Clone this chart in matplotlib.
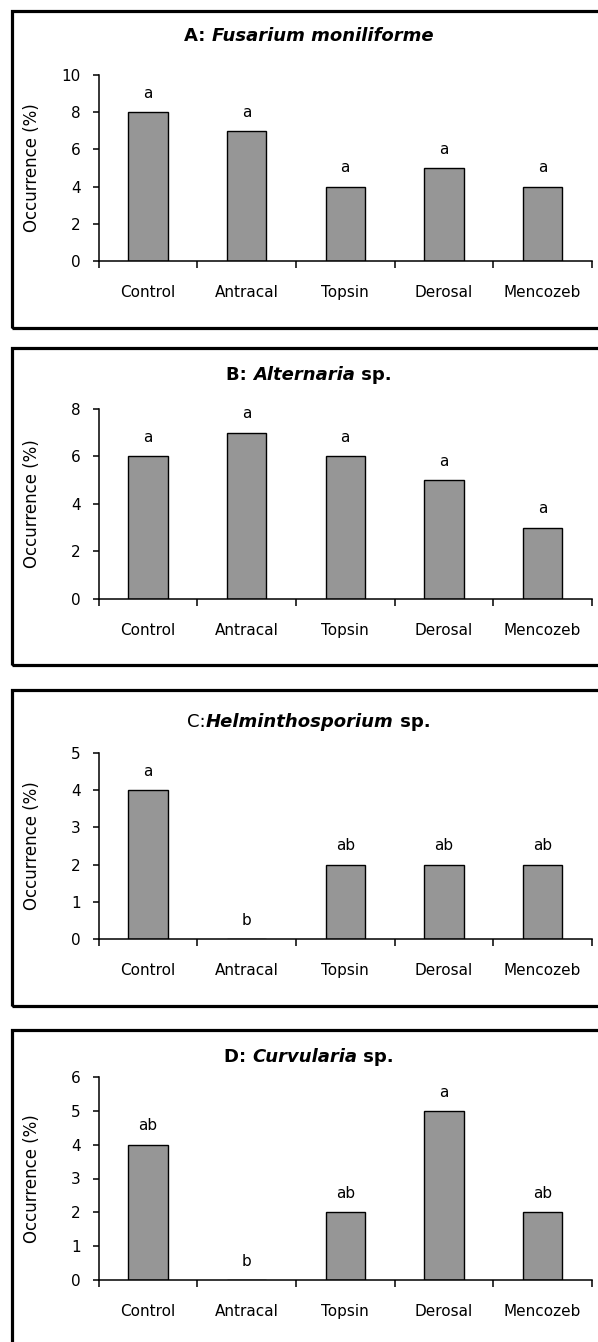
import matplotlib
matplotlib.use("Agg")
import matplotlib.pyplot as plt
from matplotlib.patches import Rectangle
from matplotlib.transforms import IdentityTransform

categories = ['Control', 'Antracal', 'Topsin', 'Derosal', 'Mencozeb']

values_a = [8, 7, 4, 5, 4]
letters_a = ['a', 'a', 'a', 'a', 'a']
yticks_a = [0, 2, 4, 6, 8, 10]

values_b = [6, 7, 6, 5, 3]
letters_b = ['a', 'a', 'a', 'a', 'a']
yticks_b = [0, 2, 4, 6, 8]

values_c = [4, 0, 2, 2, 2]
letters_c = ['a', 'b', 'ab', 'ab', 'ab']
yticks_c = [0, 1, 2, 3, 4, 5]

values_d = [4, 0, 2, 5, 2]
letters_d = ['ab', 'b', 'ab', 'a', 'ab']
yticks_d = [0, 1, 2, 3, 4, 5, 6]

title_a = [('A: ', 'normal', 'bold'), ('Fusarium moniliforme', 'italic', 'bold')]
title_b = [('B: ', 'normal', 'bold'), ('Alternaria', 'italic', 'bold'), (' sp.', 'normal', 'bold')]
title_c = [('C:', 'normal', 'normal'), ('Helminthosporium', 'italic', 'bold'), (' sp.', 'normal', 'bold')]
title_d = [('D: ', 'normal', 'bold'), ('Curvularia', 'italic', 'bold'), (' sp.', 'normal', 'bold')]

ylabel = 'Occurrence (%)'

W, H = 598, 1342
fig = plt.figure(figsize=(W / 100, H / 100), dpi=100)
fig.patch.set_facecolor('white')
plt.rcParams['font.family'] = ['DejaVu Sans']

panels = [
    # values, letters, yticks, title, axes top px, axes bottom px, box top, box bottom, title y
    (values_a, letters_a, yticks_a, title_a, 75, 261, 11, 328, 36),
    (values_b, letters_b, yticks_b, title_b, 409, 599, 348, 665, 375),
    (values_c, letters_c, yticks_c, title_c, 753, 939, 690, 1006, 722),
    (values_d, letters_d, yticks_d, title_d, 1077, 1280, 1030, 1360, 1057),
]

renderer = fig.canvas.get_renderer()


def mixed_title(parts, cx, cy, size):
    texts = []
    widths = []
    for s, style, weight in parts:
        t = fig.text(0, 0, s, fontsize=size, fontstyle=style, fontweight=weight,
                     ha='left', va='center', transform=IdentityTransform())
        bb = t.get_window_extent(renderer=renderer)
        texts.append(t)
        widths.append(bb.width)
    total = sum(widths)
    x = cx - total / 2
    for t, w in zip(texts, widths):
        t.set_position((x, H - cy))
        x += w


x_left, x_right = 98.5, 592
for vals, lets, yt, title, atop, abot, btop, bbot, ty in panels:
    # panel frame
    fig.patches.append(Rectangle((12 / W, 1 - bbot / H), 600 / W, (bbot - btop) / H,
                                 transform=fig.transFigure, fill=False,
                                 edgecolor='black', linewidth=2.3, zorder=0))
    ax = fig.add_axes([x_left / W, 1 - abot / H, (x_right - x_left) / W, (abot - atop) / H])
    ax.set_facecolor('none')
    xs = list(range(len(categories)))
    ax.bar(xs, vals, width=0.4, color='#969696', edgecolor='black', linewidth=1.0, zorder=2)
    for x, v, l in zip(xs, vals, lets):
        ax.annotate(l, (x, v), xytext=(0, 13.5), textcoords='offset points',
                    ha='center', va='center', fontsize=11)
    ax.set_xlim(-0.5, len(categories) - 0.5)
    ax.set_ylim(yt[0], yt[-1])
    ax.set_yticks(yt)
    ax.set_yticklabels([str(v) for v in yt], fontsize=11)
    ax.set_xticks(xs)
    ax.set_xticklabels(categories, fontsize=11)
    ax.set_xticks([i - 0.5 for i in range(len(categories) + 1)], minor=True)
    ax.tick_params(axis='x', which='major', length=0, pad=17)
    ax.tick_params(axis='x', which='minor', length=5, width=1.1, direction='out')
    ax.tick_params(axis='y', which='major', length=4, width=1.1, direction='out', pad=9)
    for s in ['top', 'right']:
        ax.spines[s].set_visible(False)
    for s in ['left', 'bottom']:
        ax.spines[s].set_linewidth(1.1)
    fig.text(32 / W, 1 - ((atop + abot) / 2) / H, ylabel, rotation=90, fontsize=12,
             ha='center', va='center')
    mixed_title(title, 309, ty, 13)

fig.savefig('out.png', dpi=100, facecolor='white')
